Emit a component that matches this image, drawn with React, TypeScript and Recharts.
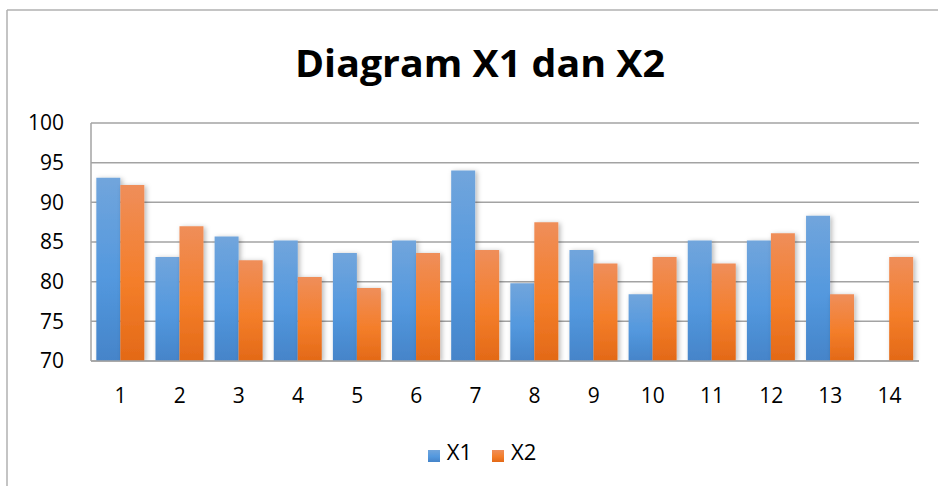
import { BarChart, Bar, XAxis, YAxis, CartesianGrid, Legend } from "recharts";

const categories = ["1", "2", "3", "4", "5", "6", "7", "8", "9", "10", "11", "12", "13", "14"];
const x1Values: (number | null)[] = [93.1, 83.1, 85.7, 85.2, 83.6, 85.2, 94.0, 79.8, 84.0, 78.4, 85.2, 85.2, 88.3, null];
const x2Values = [92.2, 87.0, 82.7, 80.6, 79.2, 83.6, 84.0, 87.5, 82.3, 83.1, 82.3, 86.1, 78.4, 83.1];
const yTicks = [70, 75, 80, 85, 90, 95, 100];

const data = categories.map((name, i) => ({ name, X1: x1Values[i], X2: x2Values[i] }));

const FONT = "'Open Sans', 'Liberation Sans', sans-serif";
const GRID = "#a3a3a3";

export default function App() {
  return (
    <div
      style={{
        position: "absolute",
        left: 0,
        top: 0,
        width: 938,
        height: 486,
        background: "#fff",
        fontFamily: FONT,
        overflow: "hidden",
      }}
    >
      <svg width={938} height={486} style={{ position: "absolute", left: 0, top: 0 }}>
        <line x1={7} y1={10} x2={938} y2={10} stroke="#b0b0b0" strokeWidth={1.5} />
        <line x1={7} y1={10} x2={7} y2={486} stroke="#b0b0b0" strokeWidth={1.5} />
        <text
          x={480}
          y={77}
          textAnchor="middle"
          fontFamily={FONT}
          fontWeight={700}
          fontSize={38}
          textLength={370}
          lengthAdjust="spacingAndGlyphs"
          fill="#000"
        >
          Diagram X1 dan X2
        </text>
      </svg>
      <div style={{ position: "absolute", left: 0, top: 0 }}>
        <BarChart
          width={938}
          height={486}
          data={data}
          margin={{ top: 123, right: 19, left: 0, bottom: 95 }}
          barCategoryGap="9%"
          barGap={0}
        >
          <defs>
            <linearGradient id="gBlue" x1="0" y1="0" x2="0" y2="1">
              <stop offset="0%" stopColor="#71a5dc" />
              <stop offset="55%" stopColor="#5398de" />
              <stop offset="100%" stopColor="#4584c9" />
            </linearGradient>
            <linearGradient id="gOrange" x1="0" y1="0" x2="0" y2="1">
              <stop offset="0%" stopColor="#ef8e5a" />
              <stop offset="55%" stopColor="#f47e2a" />
              <stop offset="100%" stopColor="#e36917" />
            </linearGradient>
            <filter id="shadow" x="-30%" y="-10%" width="160%" height="120%">
              <feDropShadow dx="2" dy="1" stdDeviation="2.5" floodColor="#000" floodOpacity="0.28" />
            </filter>
          </defs>
          <CartesianGrid vertical={false} stroke={GRID} strokeWidth={1.5} />
          <XAxis
            dataKey="name"
            height={30}
            tickLine={false}
            tickSize={0}
            tickMargin={27}
            axisLine={{ stroke: GRID, strokeWidth: 1.5 }}
            tick={{ fill: "#000", fontSize: 21, fontFamily: FONT }}
            interval={0}
          />
          <YAxis
            domain={[70, 100]}
            ticks={yTicks}
            width={91}
            tickLine={false}
            tickSize={0}
            tickMargin={27}
            axisLine={{ stroke: GRID, strokeWidth: 1.5 }}
            tick={{ fill: "#000", fontSize: 21, fontFamily: FONT }}
            allowDataOverflow
          />
          <Legend
            verticalAlign="middle"
            align="center"
            iconType="square"
            iconSize={12}
            wrapperStyle={{ top: 436, left: 38, width: 908, fontFamily: FONT }}
            formatter={(value) => (
              <span style={{ color: "#000", fontSize: 22, marginLeft: 3, marginRight: 10 }}>{value}</span>
            )}
          />
          <Bar dataKey="X1" fill="url(#gBlue)" filter="url(#shadow)" isAnimationActive={false} legendType="square" />
          <Bar dataKey="X2" fill="url(#gOrange)" filter="url(#shadow)" isAnimationActive={false} legendType="square" />
        </BarChart>
      </div>
    </div>
  );
}
